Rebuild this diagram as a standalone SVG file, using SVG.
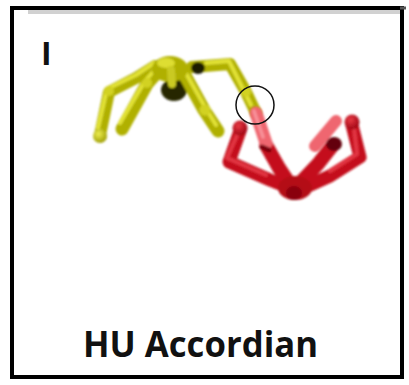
<svg xmlns="http://www.w3.org/2000/svg" width="409" height="385" viewBox="0 0 409 385">
  <style>
    .frame { fill: #ffffff; stroke: #000000; stroke-width: 4; }
    .lbl { font-family: "Open Sans", "Liberation Sans", sans-serif; font-weight: 700; fill: #111111; }
    .y-limb { stroke: #b0b000; stroke-linecap: round; stroke-linejoin: round; fill: none; }
    .y-hi { stroke: #e2e236; stroke-linecap: round; stroke-linejoin: round; fill: none; }
    .r-limb { stroke: #c40f1b; stroke-linecap: round; stroke-linejoin: round; fill: none; }
    .r-hi { stroke: #e23642; stroke-linecap: round; stroke-linejoin: round; fill: none; }
    .pink { stroke: #ef6670; stroke-linecap: round; fill: none; }
  </style>
  <defs>
    <filter id="soft" x="-10%" y="-10%" width="120%" height="120%">
      <feGaussianBlur stdDeviation="1"/>
    </filter>
    <radialGradient id="ballY" cx="0.4" cy="0.35" r="0.7">
      <stop offset="0" stop-color="#eeee50"/>
      <stop offset="1" stop-color="#9a9a00"/>
    </radialGradient>
    <radialGradient id="ballR" cx="0.4" cy="0.35" r="0.7">
      <stop offset="0" stop-color="#e83a44"/>
      <stop offset="1" stop-color="#9a0010"/>
    </radialGradient>
  </defs>

  <!-- outer frame -->
  <rect class="frame" x="12" y="8" width="390" height="369"/>
  <rect x="28" y="10" width="372" height="4" fill="#9a9a9a" opacity="0.45"/>
  <line x1="400" y1="8" x2="406" y2="8" stroke="#555" stroke-width="3"/>

  <!-- panel letter -->
  <text class="lbl" x="41" y="65" font-size="32">I</text>

  <!-- yellow figure -->
  <g id="figure-yellow" filter="url(#soft)">
    <ellipse cx="174" cy="90" rx="13" ry="11" fill="#262600"/>
    <polyline class="y-limb" stroke-width="12" points="155,66 136,78 109,92 100,135"/>
    <polyline class="y-hi" stroke-width="4" points="154,63 136,75 107,89 98,128"/>
    <polyline class="y-limb" stroke-width="13" points="161,68 147,84 122,129"/>
    <polyline class="y-hi" stroke-width="4" points="159,65 145,81 120,123"/>
    <polyline class="y-limb" stroke-width="13" points="182,70 204,110 218,131"/>
    <polyline class="y-hi" stroke-width="4" points="183,68 205,107 216,125"/>
    <polyline class="y-limb" stroke-width="12" points="192,67 230,64 246,92 256,113"/>
    <polyline class="y-hi" stroke-width="4" points="206,63 229,61 243,89 251,105"/>
    <ellipse cx="170" cy="69" rx="18" ry="13" fill="#b0b000"/>
    <ellipse cx="166" cy="63" rx="9" ry="5" fill="#dede30"/>
    <line x1="171" y1="70" x2="172" y2="84" stroke="#caca22" stroke-width="8" stroke-linecap="round"/>
    <ellipse cx="198" cy="68" rx="7" ry="6" fill="#1a1a00"/>
    <circle cx="100" cy="136" r="7" fill="url(#ballY)"/>
    <circle cx="109" cy="91" r="5" fill="#d2d220"/>
    <circle cx="147" cy="83" r="5" fill="#d2d220"/>
    <circle cx="205" cy="110" r="5.5" fill="#d2d220"/>
    <circle cx="246" cy="92" r="5" fill="#d2d220"/>
  </g>

  <!-- red figure -->
  <g id="figure-red" filter="url(#soft)">
    <polyline class="r-limb" stroke-width="13" points="240,131 229,162 270,180 290,188"/>
    <polyline class="r-hi" stroke-width="4" points="238,133 227,158 266,175"/>
    <polyline class="r-limb" stroke-width="13" points="352,125 360,157 330,176 308,186"/>
    <polyline class="r-hi" stroke-width="4" points="354,128 357,154 330,171"/>
    <polyline class="r-limb" stroke-width="14" points="266,145 279,168 291,186"/>
    <polyline class="r-limb" stroke-width="14" points="333,145 318,164 300,183"/>
    <ellipse cx="295" cy="188" rx="17" ry="12" fill="#b40a18"/>
    <ellipse cx="294" cy="193" rx="8" ry="7" fill="#8a0010"/>
    <circle cx="240" cy="128" r="7.5" fill="url(#ballR)"/>
    <circle cx="352" cy="122" r="7.5" fill="url(#ballR)"/>
    <ellipse cx="334" cy="144" rx="8" ry="7" fill="#640008"/>
    <line class="pink" stroke-width="12" x1="336" y1="121" x2="315" y2="146"/>
    <line class="pink" stroke-width="13" x1="256" y1="113" x2="266" y2="143"/>
    <line x1="254" y1="111" x2="263" y2="137" stroke="#f8929a" stroke-width="3.5" stroke-linecap="round"/>
    <line x1="262" y1="147" x2="269" y2="150" stroke="#7a0008" stroke-width="5" stroke-linecap="round"/>
  </g>

  <!-- contact marker -->
  <circle id="contact" cx="255" cy="105" r="19" fill="none" stroke="#111111" stroke-width="1.5"/>

  <!-- caption -->
  <text class="lbl" x="83" y="357" font-size="36" textLength="235" lengthAdjust="spacingAndGlyphs">HU Accordian</text>
</svg>
